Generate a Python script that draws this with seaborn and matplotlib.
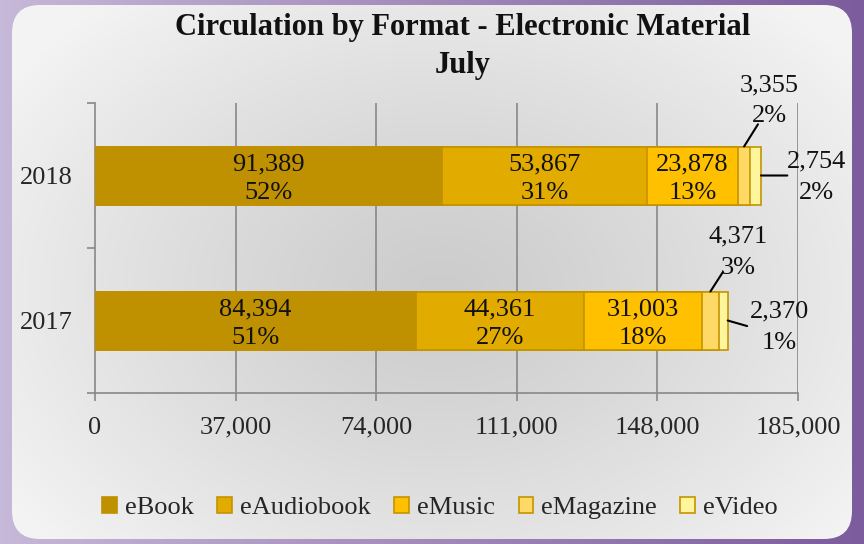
import numpy as np
import pandas as pd
import matplotlib
matplotlib.use("Agg")
import matplotlib.pyplot as plt
from matplotlib.patches import FancyBboxPatch, Patch
import seaborn as sns

years = ["2018", "2017"]
formats = ["eBook", "eAudiobook", "eMusic", "eMagazine", "eVideo"]
values_2018 = [91389, 53867, 23878, 3355, 2754]
values_2017 = [84394, 44361, 31003, 4371, 2370]
pct_2018 = ["52%", "31%", "13%", "2%", "2%"]
pct_2017 = ["51%", "27%", "18%", "3%", "1%"]
colors = ["#BF9000", "#E2AB00", "#FFC000", "#FFD966", "#FFF59D"]
edge = "#C39400"
xticks = [0, 37000, 74000, 111000, 148000, 185000]

sns.set_theme(style="white")
plt.rcParams["font.family"] = ["Liberation Serif", "DejaVu Serif"]

FS = 19
LS = 1.4
W, H = 864, 544
fig = plt.figure(figsize=(W / 100, H / 100), dpi=100)

# background: purple frame + rounded light panel with radial gradient
bg = fig.add_axes([0, 0, 1, 1], zorder=-10)
bg.set_xlim(0, W); bg.set_ylim(H, 0); bg.axis("off")
gx = np.linspace(0, 1, 200)
c1 = np.array([0xC6, 0xB8, 0xD8]) / 255
c2 = np.array([0x7C, 0x5C, 0x9C]) / 255
grad = c1[None, None, :] * (1 - gx[None, :, None]) + c2[None, None, :] * gx[None, :, None]
grad = np.repeat(grad, 2, axis=0)
bg.imshow(grad, extent=[0, W, H, 0], aspect="auto", zorder=0)
yy, xx = np.mgrid[0:H:2, 0:W:2]
d = np.sqrt(((xx - 440) / 520) ** 2 + ((yy - 290) / 380) ** 2)
d = np.clip(d, 0, 1)
lo, hi = 0.80, 0.955
v = lo + (hi - lo) * d ** 1.2
panel_img = np.dstack([v, v, v])
im = bg.imshow(panel_img, extent=[0, W, H, 0], aspect="auto", zorder=1)
panel = FancyBboxPatch((12, 5), 840, 534, boxstyle="round,pad=0,rounding_size=28",
                       transform=bg.transData, facecolor="none", edgecolor="none")
bg.add_patch(panel)
im.set_clip_path(panel)

ax = fig.add_axes([95 / W, (H - 393) / H, (798 - 95) / W, (393 - 103) / H])
ax.set_facecolor("none")

df = pd.DataFrame({"year": np.repeat(years, len(formats)),
                   "format": formats * 2,
                   "value": values_2018 + values_2017})
df["cum"] = df.groupby("year", sort=False)["value"].cumsum()
df["start"] = df["cum"] - df["value"]

# stacked via cumulative overlay (largest first)
for i in range(len(formats) - 1, -1, -1):
    sub = df[df["format"] == formats[i]]
    sns.barplot(data=sub, x="cum", y="year", order=years, orient="h",
                color=colors[i], edgecolor=edge if i > 0 else colors[0],
                linewidth=1.2, width=0.4, ax=ax, saturation=1, zorder=3)

ax.set_xlim(0, 185000)
ax.set_ylim(1.5, -0.5)
ax.set_xticks(xticks)
ax.set_xticklabels([f"{t:,}" for t in xticks], fontsize=FS)
ax.set_yticks([-0.5, 0.5, 1.5])
ax.set_yticklabels([])
ax.set_yticks([0, 1], minor=True)
ax.set_yticklabels(years, minor=True, fontsize=FS)
ax.tick_params(axis="y", which="minor", length=0, pad=16)
ax.tick_params(axis="y", which="major", length=6, width=1.2, color="#888888", left=True)
ax.tick_params(axis="x", length=6, width=1.2, color="#888888", bottom=True, pad=11)
ax.set_xlabel(""); ax.set_ylabel("")
for s in ["top", "right"]:
    ax.spines[s].set_visible(False)
for s in ["left", "bottom"]:
    ax.spines[s].set_color("#888888"); ax.spines[s].set_linewidth(1.2)
for t in xticks[1:]:
    ax.axvline(t, color="#888888", lw=1.2, zorder=1)

# data labels
pcts = {"2018": pct_2018, "2017": pct_2017}
# offsets (points, positive dy = downward) for small segments:
# (anchor, text dx, text dy, line-end dx, line-end dy)
outside = {
    ("2018", "eMagazine"): ("top", 18, -33, 10, -16),
    ("2018", "eVideo"): ("right", 40, 1, 19, 0),
    ("2017", "eMagazine"): ("top", 20, -28, 9, -14),
    ("2017", "eVideo"): ("right", 37, 5, 14, 4),
}
for _, r in df.iterrows():
    yi = years.index(r["year"])
    fi = formats.index(r["format"])
    txt = f"{r['value']:,}\n{pcts[r['year']][fi]}"
    key = (r["year"], r["format"])
    if key not in outside:
        ax.text((r["start"] + r["cum"]) / 2, yi + 0.02, txt, ha="center", va="center",
                fontsize=FS, linespacing=LS, color="#111111", zorder=5)
    else:
        anchor, dx, dy, lx, ly = outside[key]
        if anchor == "top":
            xy = ((r["start"] + r["cum"]) / 2, yi - 0.2)
        else:
            xy = (r["cum"], yi)
        ax.annotate(txt, xy=xy, xytext=(dx, -dy), textcoords="offset points",
                    ha="center", va="center", fontsize=FS, linespacing=1.55,
                    color="#111111", zorder=5, annotation_clip=False)
        ax.annotate("", xy=xy, xytext=(lx, -ly), textcoords="offset points",
                    arrowprops=dict(arrowstyle="-", color="black", lw=1.5,
                                    shrinkA=0, shrinkB=0), zorder=5,
                    annotation_clip=False)

fig.text(463 / W, 1 - 28 / H, "Circulation by Format - Electronic Material",
         ha="center", va="center", fontsize=22, fontweight="bold", color="#111111")
fig.text(463 / W, 1 - 65 / H, "July",
         ha="center", va="center", fontsize=22, fontweight="bold", color="#111111")

handles = [Patch(facecolor=c, edgecolor=edge if i > 0 else c, linewidth=1.2)
           for i, c in enumerate(colors)]
fig.legend(handles, formats, loc="center", bbox_to_anchor=(440 / W, 1 - 508 / H),
           ncol=5, frameon=False, fontsize=FS, handlelength=0.55, handleheight=0.55,
           handletextpad=0.3, columnspacing=0.9)

fig.savefig("out.png", dpi=100)
